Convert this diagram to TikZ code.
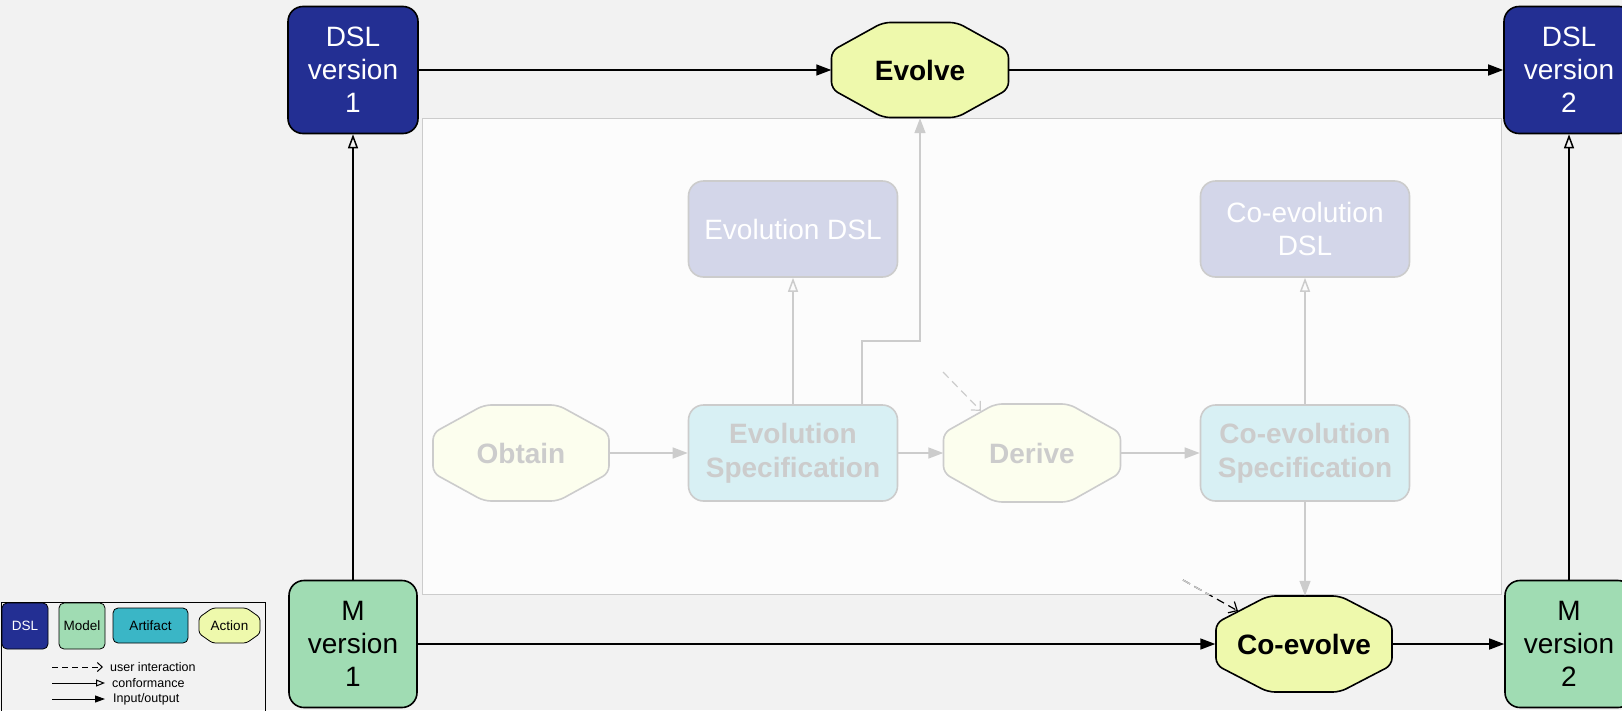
\documentclass[tikz,border=0pt]{standalone}
\usepackage{fontspec}
\setmainfont{Liberation Sans}
\usetikzlibrary{arrows.meta,calc}
\definecolor{bg}{RGB}{242,242,242}
\definecolor{dslc}{RGB}{35,47,147}
\definecolor{modc}{RGB}{160,220,179}
\definecolor{artc}{RGB}{58,182,198}
\definecolor{actc}{RGB}{238,249,172}
\definecolor{fdsl}{RGB}{211,214,233}
\definecolor{fart}{RGB}{216,240,244}
\definecolor{fact}{RGB}{252,254,238}
\definecolor{fgray}{RGB}{204,204,204}
\definecolor{panel}{RGB}{252,252,252}
\newcommand{\diafont}{\fontsize{28}{33}\selectfont}
\newcommand{\diafontb}{\fontsize{28}{34}\selectfont\bfseries}
\newcommand{\legfont}{\fontsize{12.5}{14}\selectfont}
\newcommand{\legboxfont}{\fontsize{13.5}{15}\selectfont}
\newcommand{\octpath}[7]{\path[#1] ({#2-#4},{#3-#7}) -- ({#2-#6},{#3-#5}) -- ({#2+#6},{#3-#5}) -- ({#2+#4},{#3-#7}) -- ({#2+#4},{#3+#7}) -- ({#2+#6},{#3+#5}) -- ({#2-#6},{#3+#5}) -- ({#2-#4},{#3+#7}) -- cycle;}
\begin{document}
\begin{tikzpicture}[x=1pt,y=-1pt,
  bx/.style={draw, line width=1.6pt, rounded corners=15pt, inner sep=0pt, align=center},
  dslbox/.style={bx, fill=dslc, text=white, minimum width=130pt, minimum height=127pt, font=\diafont},
  modbox/.style={bx, fill=modc, text=black, minimum width=128pt, minimum height=127pt, font=\diafont},
  actpath/.style={draw, fill=actc, line width=1.6pt, rounded corners=7pt},
  octtext/.style={inner sep=0pt, minimum width=177pt, minimum height=96pt, align=center},
  fbox/.style={draw=fgray, line width=1.6pt, rounded corners=15pt, inner sep=0pt, minimum width=209pt, minimum height=96pt, align=center},
  fdslbox/.style={fbox, fill=fdsl, text=white, font=\diafont},
  fartbox/.style={fbox, fill=fart, text=fgray, font=\diafontb},
  factpath/.style={draw=fgray, fill=fact, line width=1.6pt, rounded corners=7pt},
  mainarr/.style={line width=1.5pt, -{Triangle[length=15pt,width=11pt]}},
  confarr/.style={line width=1.5pt, -{Triangle[open,length=14pt,width=10pt]}},
  fmain/.style={fgray, line width=1.5pt, -{Triangle[length=15pt,width=11pt]}},
  fconf/.style={fgray, line width=1.5pt, -{Triangle[open,length=14pt,width=10pt]}},
  userarr/.style={line width=1.2pt, dash pattern=on 8pt off 5pt, -{Straight Barb[length=7pt,width=13pt]}},
  legbox/.style={draw, line width=0.8pt, rounded corners=5pt, inner sep=0pt, font=\legboxfont},
  legtext/.style={font=\legfont, anchor=west, inner sep=0pt},
]
\fill[bg] (0,0) rectangle (1622,710);
\useasboundingbox (0,0) rectangle (1622,710);

% inner panel
\draw[fgray, fill=panel, line width=1pt] (422,118) rectangle (1501,594);

% outer nodes
\node[dslbox] (dsl1) at (353,70) {DSL\\version\\1};
\node[dslbox] (dsl2) at (1569,70) {DSL\\version\\2};
\node[modbox] (m1) at (353,644) {M\\version\\1};
\node[modbox] (m2) at (1569,644) {M\\version\\2};

\octpath{actpath}{920}{70}{88.5}{47.5}{37}{19}
\node[octtext, font=\diafontb] (evolve) at (920,70) {Evolve};
\octpath{actpath}{1304}{644}{88}{48}{36}{21}
\node[octtext, font=\diafontb] (coevolve) at (1304,644) {Co-evolve};

% inner (faded) nodes
\node[fdslbox] (evodsl) at (793,229) {Evolution DSL};
\node[fdslbox] (coevodsl) at (1305,229) {Co-evolution\\DSL};
\octpath{factpath}{521}{453}{88}{48}{37}{20}
\node[octtext, font=\diafontb, text=fgray] (obtain) at (521,453) {Obtain};
\node[fartbox] (evospec) at (793,453) {Evolution\\Specification};
\octpath{factpath}{1032}{453}{88.5}{49}{37}{20}
\node[octtext, font=\diafontb, text=fgray] (derive) at (1032,453) {Derive};
\node[fartbox] (coevospec) at (1305,453) {Co-evolution\\Specification};

% inner connectors
\draw[fmain] (obtain) -- (evospec);
\draw[fmain] (evospec) -- (derive);
\draw[fmain] (derive) -- (coevospec);
\draw[fconf] (evospec.north) -- (evodsl.south);
\draw[fconf] (coevospec.north) -- (coevodsl.south);
\coordinate (bend) at (920,341);
\draw[fmain] ($(evospec.north)+(69,0)$) |- (bend) -- (evolve.south);
\draw[fmain] (coevospec.south) -- (coevolve.north -| coevospec.south);
\coordinate (u1s) at (943,372);
\coordinate (u1e) at (981,411);
\draw[userarr, fgray] (u1s) -- (u1e);

% outer connectors
\draw[mainarr] (dsl1) -- (evolve);
\draw[mainarr] (evolve) -- (dsl2);
\draw[mainarr] (m1) -- (coevolve);
\draw[mainarr] (coevolve) -- (m2);
\draw[confarr] (m1) -- (dsl1);
\draw[confarr] (m2) -- (dsl2);
\coordinate (u2s) at (1183,580);
\coordinate (u2e) at (1238,611);
\draw[userarr] (u2s) -- (u2e);
\begin{scope}
\clip (422,118) rectangle (1501,594);
\draw[line width=1.4pt, dash pattern=on 8pt off 5pt, fgray] (u2s) -- (u2e);
\end{scope}

% legend
\draw[line width=0.8pt] (1,602) rectangle (265,715);
\node[legbox, fill=dslc, text=white, minimum width=46pt, minimum height=46pt] (lgdsl) at (25,626) {DSL};
\node[legbox, fill=modc, minimum width=46pt, minimum height=46pt] (lgmod) at (82,626) {Model};
\node[legbox, fill=artc, minimum width=75pt, minimum height=35pt] (lgart) at (150.5,625.5) {Artifact};
\octpath{draw, fill=actc, line width=0.8pt, rounded corners=3pt}{229.5}{625.5}{30.5}{17.5}{17}{8}
\node[inner sep=0pt, font=\legboxfont] (lgact) at (229.5,625.5) {Action};
\coordinate (l1s) at (52,667); \coordinate (l1e) at (103,667);
\coordinate (l2s) at (52,683); \coordinate (l2e) at (105,683);
\coordinate (l3s) at (52,699); \coordinate (l3e) at (105,699);
\draw[line width=1pt, dash pattern=on 6pt off 4pt, -{Straight Barb[length=5pt,width=9pt]}] (l1s) -- (l1e);
\draw[line width=1pt, -{Triangle[open,length=9pt,width=7pt]}] (l2s) -- (l2e);
\draw[line width=1pt, -{Triangle[length=10pt,width=7pt]}] (l3s) -- (l3e);
\node[legtext] (lt1) at (110,667) {user interaction};
\node[legtext] (lt2) at (112,683) {conformance};
\node[legtext] (lt3) at (113,699) {Input/output};
\end{tikzpicture}
\end{document}
